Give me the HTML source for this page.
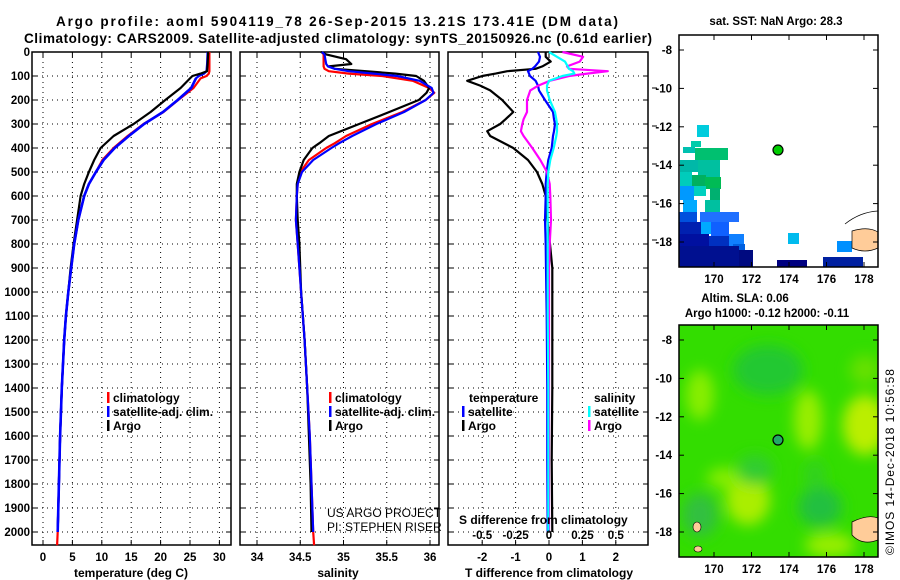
<!DOCTYPE html>
<html><head><meta charset="utf-8"><style>
html,body{margin:0;padding:0;background:#fff;}
svg{display:block;font-family:"Liberation Sans",sans-serif;}
.t{font-weight:bold;font-size:12px;fill:#000;}
.lab{font-weight:bold;font-size:11.5px;fill:#000;}
.thin{font-size:12px;fill:#000;}
.grid{stroke:#000;stroke-width:1;stroke-dasharray:1,4;}
</style></head><body>
<svg id="chart" width="900" height="580" viewBox="0 0 900 580">
<text x="337" y="26" text-anchor="middle" class="t" style="font-size:13.5px" textLength="562">Argo profile: aoml 5904119_78 26-Sep-2015 13.21S 173.41E (DM data)</text>
<text x="338" y="43" text-anchor="middle" class="t" style="font-size:13.5px" textLength="628">Climatology: CARS2009. Satellite-adjusted climatology: synTS_20150926.nc (0.61d earlier)</text>
<g id="panels"></g>
<g id="maps"></g>
<text transform="translate(894,555) rotate(-90)" class="thin" style="font-size:12px" textLength="186">©IMOS 14-Dec-2018 10:56:58</text>
</svg>
<script>
// ---- data ----
const depthT=[0,50,80,90,100,110,150,200,250,300,350,400,450,500,550,600,700,800,900,1000,1100,1200,1400,1600,1800,2000];
const argoT=[28.1,28.0,27.9,26.8,25.4,25.0,23.4,20.8,18.3,15.4,12.0,9.8,8.7,7.8,7.0,6.4,5.8,5.2,4.7,4.3,3.9,3.6,3.2,2.9,2.7,2.5];
const climT=[28.3,28.3,28.3,28.2,27.8,26.8,25.6,23.0,20.5,17.1,14.4,12.0,10.1,9.0,7.8,7.0,6.0,5.3,4.8,4.3,3.9,3.6,3.2,2.9,2.7,2.5];
const satT=[28.0,27.9,27.8,27.4,26.5,26.0,25.2,22.9,20.4,17.2,14.6,12.2,10.3,9.0,7.8,7.0,6.0,5.3,4.8,4.3,3.9,3.6,3.2,2.9,2.7,2.5];
const depthS=[0,10,30,50,60,70,80,90,100,120,150,170,200,250,300,350,380,400,450,500,550,600,700,800,1000,1200,1400,1600,1800,2000];
const argoS=[34.74,34.80,35.03,35.09,34.83,34.9,35.26,35.6,35.84,35.93,35.99,35.96,35.87,35.53,35.18,34.83,34.72,34.64,34.54,34.49,34.46,34.46,34.47,34.49,34.51,34.55,34.58,34.60,34.62,34.63];
const climS=[34.75,34.77,34.77,34.77,34.77,34.78,34.83,35.06,35.45,35.8,35.99,36.05,35.95,35.68,35.33,35.03,34.9,34.8,34.6,34.5,34.47,34.46,34.45,34.47,34.51,34.55,34.58,34.61,34.63,34.65];
const satS=[34.75,34.78,34.79,34.8,34.82,34.9,35.06,35.35,35.62,35.88,36.02,36.04,35.95,35.7,35.38,35.1,34.95,34.86,34.65,34.52,34.47,34.46,34.45,34.47,34.51,34.55,34.58,34.61,34.63,34.65];
const depthD=[0,20,40,60,70,80,90,100,120,140,160,200,250,280,300,330,350,400,450,500,550,600,700,800,900,1100,1400,1700,2000];
const argoDT=[-0.1,-0.1,0.05,-0.2,-0.4,-1.25,-1.6,-2.0,-2.45,-2.06,-1.76,-1.4,-1.07,-1.3,-1.46,-1.85,-1.76,-1.07,-0.63,-0.36,-0.2,-0.1,-0.05,0.03,0.1,0.1,0.1,0.08,0.1];
const satDT=[-0.33,-0.27,-0.3,-0.42,-0.5,-0.63,-0.6,-0.57,-0.4,-0.33,-0.3,-0.12,0.12,0.15,0.18,0.15,0.12,0.08,-0.02,-0.07,-0.1,-0.1,-0.12,-0.1,-0.09,-0.07,-0.05,-0.05,-0.04];
const satDS=[0,0.06,0.12,0.14,0.15,0.18,0.19,0.1,0.0,-0.015,-0.015,0.005,0.045,0.055,0.06,0.06,0.055,0.035,0.01,-0.005,-0.01,-0.01,-0.01,-0.01,-0.01,-0.01,-0.005,-0.005,-0.005];
const argoDS=[0.1,0.255,0.23,0.135,0.15,0.44,0.285,0.15,0.005,-0.08,-0.14,-0.165,-0.165,-0.19,-0.2,-0.21,-0.19,-0.125,-0.065,-0.015,0.005,0.01,0.015,0.005,0.0,0.0,0.0,0.0,0.0];
const depthTicks=[0,100,200,300,400,500,600,700,800,900,1000,1100,1200,1300,1400,1500,1600,1700,1800,1900,2000];
const tempTicks=[0,5,10,15,20,25,30];
const salTicks=[34,34.5,35,35.5,36];
const tdTicks=[-2,-1,0,1,2];
const sdTicks=[-0.5,-0.25,0,0.25,0.5];
const latTicks=[-8,-10,-12,-14,-16,-18];
const lonTicks=[170,172,174,176,178];

const NS='http://www.w3.org/2000/svg';
const P=document.getElementById('panels');
function el(tag,attrs,parent){const e=document.createElementNS(NS,tag);for(const k in attrs)e.setAttribute(k,attrs[k]);(parent||P).appendChild(e);return e;}
const yD=d=>52+d*0.24;
const TOP=52,BOT=545;
const xT=v=>43+v*5.88;
const xS=v=>257+(v-34)*86.5;
const xTD=v=>549+v*33.4;
const xSD=v=>549+v*133.6;

function frame(x0,x1,name,ticksX,fx,labels){
  const g=el('g',{});
  
  
  ticksX.forEach(t=>{el('line',{x1:fx(t),x2:fx(t),y1:TOP,y2:BOT,class:'grid'},g);});
  depthTicks.forEach(d=>{el('line',{x1:x0,x2:x1,y1:yD(d),y2:yD(d),class:'grid'},g);
    el('line',{x1:x0,x2:x0+5,y1:yD(d),y2:yD(d),stroke:'#000'},g);el('line',{x1:x1-5,x2:x1,y1:yD(d),y2:yD(d),stroke:'#000'},g);});
  ticksX.forEach(t=>{el('line',{x1:fx(t),x2:fx(t),y1:BOT-5,y2:BOT,stroke:'#000'},g);el('line',{x1:fx(t),x2:fx(t),y1:TOP,y2:TOP+5,stroke:'#000'},g);});
  el('rect',{x:x0,y:TOP,width:x1-x0,height:BOT-TOP,fill:'none',stroke:'#000','stroke-width':1.5},g);
  if(labels){ticksX.forEach(t=>{const tx=el('text',{x:fx(t),y:561,'text-anchor':'middle',class:'lab'},g);tx.textContent=String(t);
    
    });}
  return g;
}
function line(xs,ds,fx,color,name,w){
  let d='';xs.forEach((v,i)=>{d+=(i?'L':'M')+fx(v).toFixed(1)+','+yD(ds[i]).toFixed(1);});
  const p=el('path',{d:d,fill:'none',stroke:color,'stroke-width':w||2.2,'stroke-linejoin':'round'});
  
  
  return p;
}
depthTicks.forEach(d=>{const t=el('text',{x:30,y:yD(d)+4,'text-anchor':'end',class:'lab'});t.textContent=String(d);
  
  });

frame(32,231,'temperature-panel',tempTicks,xT,true);
line(climT.concat([2.4]),depthT.concat([2055]),xT,'#f00','climatology-temp-line');
line(satT,depthT,xT,'#00f','satellite-temp-line');
line(argoT,depthT,xT,'#000','argo-temp-line');
line(satT.slice(5),depthT.slice(5),xT,'#00f','satellite-temp-line-deep',2.6);
frame(240,439,'salinity-panel',salTicks,xS,true);
line(climS.concat([34.66]),depthS.concat([2055]),xS,'#f00','climatology-salinity-line');
line(argoS,depthS,xS,'#000','argo-salinity-line');
line(satS,depthS,xS,'#00f','satellite-salinity-line');
frame(448,648,'difference-panel',tdTicks,xTD,true);
line(argoDT,depthD,xTD,'#000','argo-temp-diff-line');
line(satDT,depthD,xTD,'#00f','satellite-temp-diff-line');
line(argoDS,depthD,xSD,'#f0f','argo-salinity-diff-line');
line(satDS,depthD,xSD,'#0ff','satellite-salinity-diff-line');
sdTicks.forEach(s=>{const t=el('text',{x:xSD(s),y:539,'text-anchor':'middle',class:'lab'});t.textContent=String(s);
  
  });
for(let i=0;i<5;i++){el('line',{x1:652,x2:657,y1:88+i*38,y2:88+i*38,stroke:'#000'});}

function txt(x,y,s,cls,name,anchor){const t=el('text',{x:x,y:y,class:cls,'text-anchor':anchor||'start'});t.textContent=s;
  
  return t;}
txt(131,577,'temperature (deg C)','t','x-axis-title-temperature','middle');
txt(338,577,'salinity','t','x-axis-title-salinity','middle');
txt(549,577,'T difference from climatology','t','x-axis-title-t-diff','middle');
txt(459,524,'S difference from climatology','t','s-diff-axis-title');
txt(327,517,'US ARGO PROJECT','thin','project-label');
txt(327,531,'PI: STEPHEN RISER','thin','pi-label');
function leg(x,y,c,s,name){const r=el('rect',{x:x,y:y-10,width:2.5,height:11,fill:c});
  
  
  txt(x+6,y,s,'t',name);}
leg(107,402,'#f00','climatology','legend-climatology');
leg(107,416,'#00f','satellite-adj. clim.','legend-satellite');
leg(107,430,'#000','Argo','legend-argo');
leg(329,402,'#f00','climatology','legend2-climatology');
leg(329,416,'#00f','satellite-adj. clim.','legend2-satellite');
leg(329,430,'#000','Argo','legend2-argo');
txt(469,402,'temperature','t','legend-temperature-header');
leg(462,416,'#00f','satellite','legend-t-satellite');
leg(462,430,'#000','Argo','legend-t-argo');
txt(594,402,'salinity','t','legend-salinity-header');
leg(588,416,'#0ff','satellite','legend-s-satellite');
leg(588,430,'#f0f','Argo','legend-s-argo');

// ---- maps ----
const M=document.getElementById('maps');
const lonX=l=>714+(l-170)*18.75;
function mapFrame(y0,y1,latY,name,lonBottom){
  const g=el('g',{},M);
  
  
  el('rect',{x:679,y:y0,width:199,height:y1-y0,fill:'none',stroke:'#000','stroke-width':1.5},g);
  latTicks.forEach(l=>{const y=latY(l);el('line',{x1:679,x2:684,y1:y,y2:y,stroke:'#000'},g);el('line',{x1:873,x2:878,y1:y,y2:y,stroke:'#000'},g);
    const t=el('text',{x:672,y:y+4,'text-anchor':'end',class:'lab'},g);t.textContent=String(l);
    
    });
  lonTicks.forEach(l=>{const x=lonX(l);el('line',{x1:x,x2:x,y1:y0,y2:y0+5,stroke:'#000'},g);el('line',{x1:x,x2:x,y1:y1-5,y2:y1,stroke:'#000'},g);
    const t=el('text',{x:x,y:lonBottom,'text-anchor':'middle',class:'lab'},g);t.textContent=String(l);
    
    });
  return g;
}
const latY1=l=>50+(-8-l)*19.2;
const cells=[
[697,125,12,12,'#00ccdd'],[691,141,10,6,'#00ccaa'],[683,147,12,6,'#00c0b0'],[695,148,33,12,'#00c070'],
[680,160,18,12,'#00b8a8'],[698,160,22,18,'#00c0a0'],[680,172,12,14,'#00ccbb'],[692,175,14,12,'#00b060'],
[705,177,16,12,'#00bb55'],[680,186,14,14,'#0099ff'],[694,186,12,10,'#00d0c0'],[710,188,10,20,'#00b070'],
[683,200,14,12,'#00aaff'],[705,200,15,18,'#00c0a0'],[679,212,18,10,'#0050dd'],[700,212,39,10,'#2070ff'],
[679,222,22,12,'#0020b0'],[701,222,10,12,'#00aaff'],[711,222,18,14,'#1060ff'],[729,234,15,12,'#1080ff'],
[679,234,30,12,'#0010a0'],[709,236,20,12,'#0030c0'],[733,244,12,10,'#0060e0'],[679,246,60,21,'#001090'],
[739,250,14,17,'#000a80'],[788,233,11,11,'#00bbee'],[777,260,30,7,'#000080'],[837,241,15,11,'#0090ff'],[823,257,40,10,'#0020a0']];
cells.forEach(c=>{const r=el('rect',{x:c[0],y:c[1],width:c[2],height:c[3],fill:c[4]},M);
  
  });
el('path',{d:'M852,231 Q868,226 878,232 L878,248 Q865,254 852,248 Z',fill:'#ffcc99',stroke:'#000','stroke-width':0.7},M);
el('path',{d:'M845,224 Q860,212 878,211',fill:'none',stroke:'#000','stroke-width':0.8},M);
const d1=el('circle',{cx:778,cy:latY1(-13.21),r:5,fill:'#00cc00',stroke:'#000','stroke-width':1.2},M);


mapFrame(35,267,latY1,'sst-map',283);
const st=el('text',{x:776,y:25,'text-anchor':'middle',class:'lab'},M);st.textContent='sat. SST: NaN Argo: 28.3';


const latY2=l=>340+(-8-l)*19.2;
const defs=el('defs',{},M);
const f=el('filter',{id:'bl',x:'-50%',y:'-50%',width:'200%',height:'200%'},defs);
el('feGaussianBlur',{stdDeviation:7},f);
const cp=el('clipPath',{id:'cp2'},defs);el('rect',{x:679,y:325,width:199,height:232},cp);
const g2=el('g',{'clip-path':'url(#cp2)'},M);


el('rect',{x:679,y:325,width:199,height:232,fill:'#33dd00'},g2);
const gb=el('g',{filter:'url(#bl)'},g2);
[[700,395,14,25,'#88ee00'],[768,370,35,25,'#22c830'],[808,420,14,30,'#99ee00'],[865,425,22,30,'#bbee00'],
[748,500,22,25,'#aaee00'],[725,478,18,10,'#88ee00'],[820,507,22,20,'#22c040'],[700,515,18,22,'#33c040'],
[755,470,18,15,'#30cc30'],[830,545,25,12,'#99ee00'],[815,475,10,15,'#33d020'],[865,370,15,15,'#66e000']].forEach(e=>{
  el('ellipse',{cx:e[0],cy:e[1],rx:e[2],ry:e[3],fill:e[4]},gb);});
el('path',{d:'M852,522 Q868,514 878,518 L878,540 Q862,546 852,535 Z',fill:'#ffcc99',stroke:'#000','stroke-width':0.7},g2);
el('ellipse',{cx:697,cy:527,rx:4,ry:5,fill:'#ffcc99',stroke:'#000','stroke-width':0.6},g2);
el('ellipse',{cx:698,cy:549,rx:4,ry:3,fill:'#ffcc99',stroke:'#000','stroke-width':0.6},g2);
const d2=el('circle',{cx:778,cy:latY2(-13.21),r:5,fill:'#22aa66',stroke:'#000','stroke-width':1.2},M);


mapFrame(325,557,latY2,'sla-map',573);
const s1=el('text',{x:745,y:302,'text-anchor':'middle',class:'lab'},M);s1.textContent='Altim. SLA: 0.06';


const s2=el('text',{x:767,y:317,'text-anchor':'middle',class:'lab'},M);s2.textContent='Argo h1000: -0.12 h2000: -0.11';


</script>
</body></html>
